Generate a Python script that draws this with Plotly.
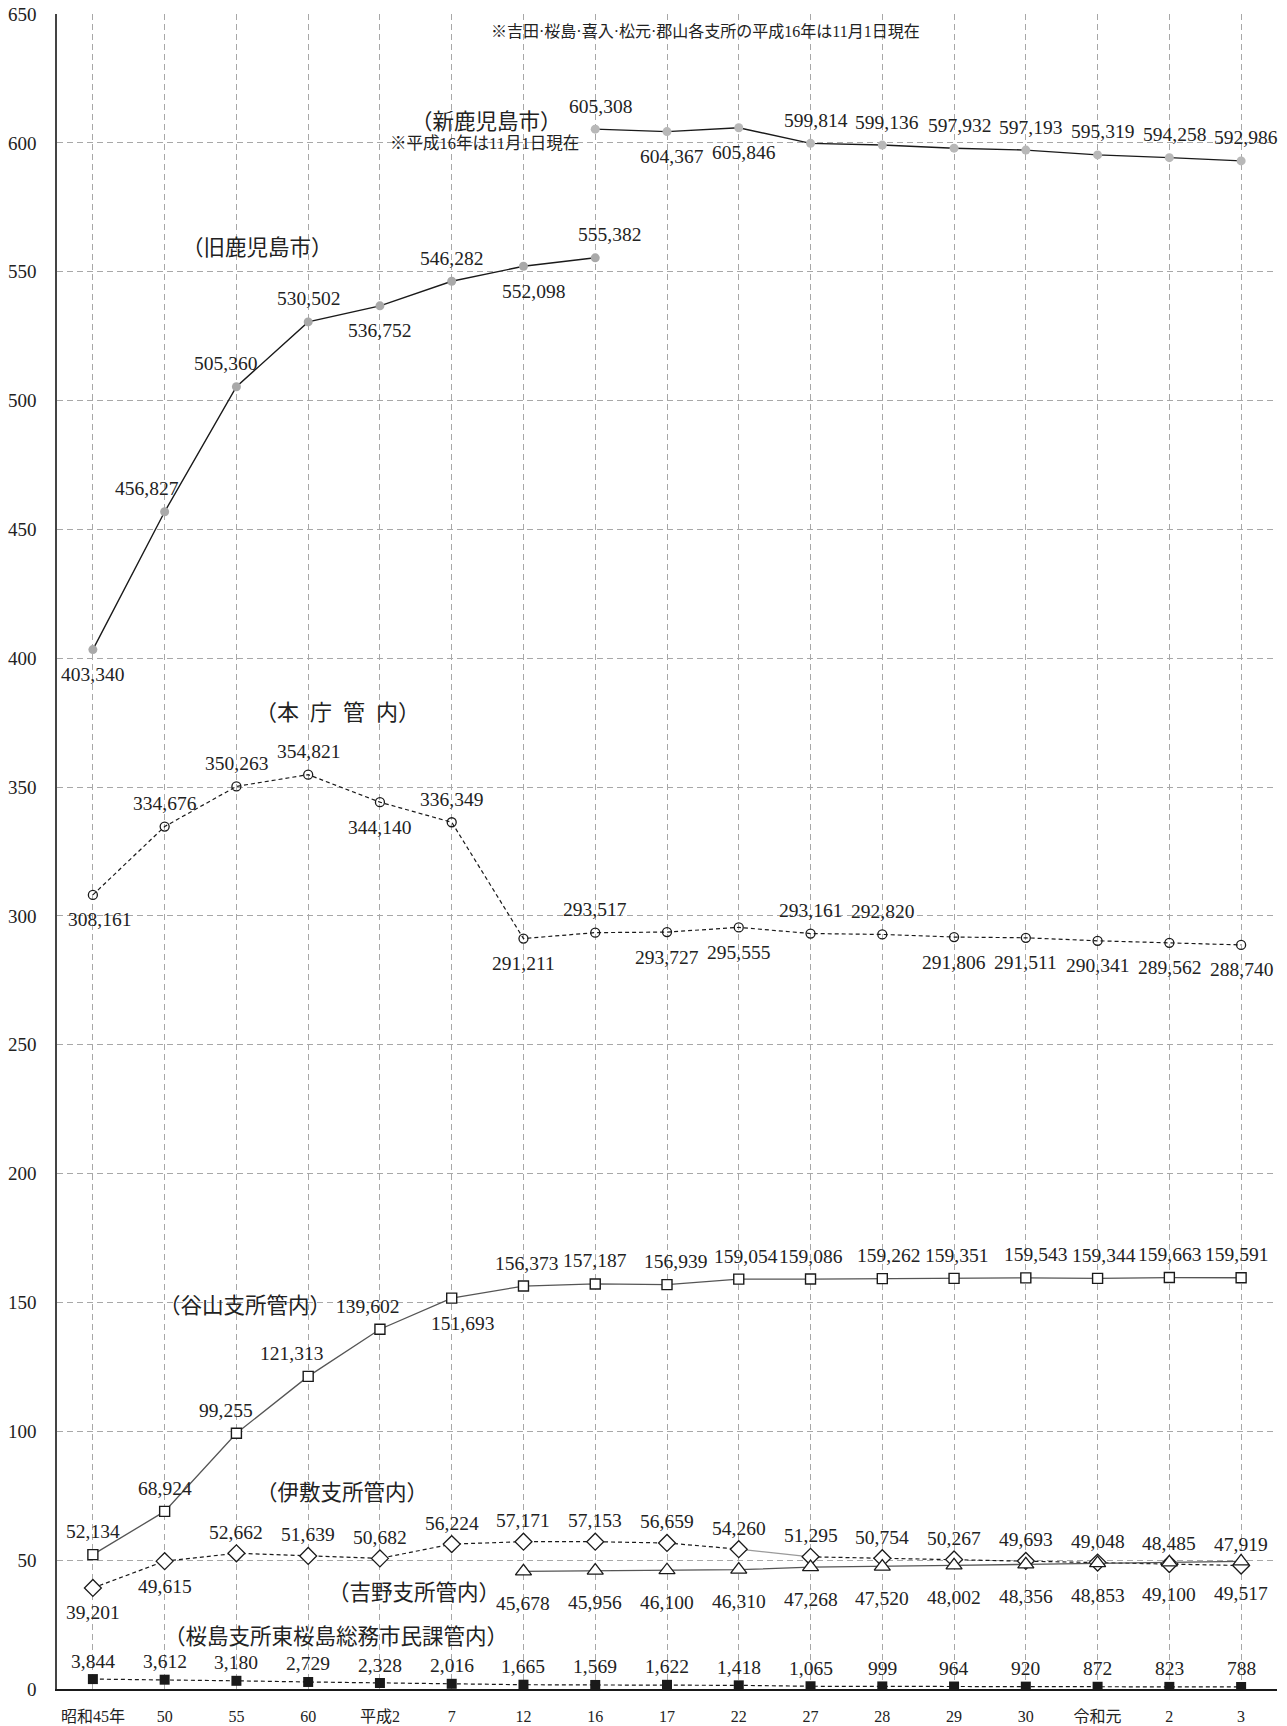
import plotly.graph_objects as go

# ---------------- data ----------------
categories = ["昭和45年", "50", "55", "60", "平成2", "7", "12", "16", "17",
              "22", "27", "28", "29", "30", "令和元", "2", "3"]

old_city = [403340, 456827, 505360, 530502, 536752, 546282, 552098, 555382]          # 昭和45..16
new_city = [605308, 604367, 605846, 599814, 599136, 597932, 597193, 595319, 594258, 592986]  # 16..3
honcho = [308161, 334676, 350263, 354821, 344140, 336349, 291211, 293517, 293727,
          295555, 293161, 292820, 291806, 291511, 290341, 289562, 288740]
taniyama = [52134, 68924, 99255, 121313, 139602, 151693, 156373, 157187, 156939,
            159054, 159086, 159262, 159351, 159543, 159344, 159663, 159591]
ishiki = [39201, 49615, 52662, 51639, 50682, 56224, 57171, 57153, 56659,
          54260, 51295, 50754, 50267, 49693, 49048, 48485, 47919]
yoshino = [45678, 45956, 46100, 46310, 47268, 47520, 48002, 48356, 48853, 49100, 49517]  # 12..3
higashi = [3844, 3612, 3180, 2729, 2328, 2016, 1665, 1569, 1622, 1418,
           1065, 999, 964, 920, 872, 823, 788]

y_ticks = list(range(0, 651, 50))

OLD_START = 0   # 昭和45年
NEW_START = 7   # 平成16
YOSHINO_START = 6  # 平成12

old_x = categories[OLD_START:OLD_START + len(old_city)]
new_x = categories[NEW_START:]
yoshino_x = categories[YOSHINO_START:]

# ---------------- label styling (positions of value labels) ----------------
old_pos = ['d', 'u', 'u', 'u', 'd', 'u', 'd', 'u']
old_dx = [0, -18, -11, 0, 0, 0, 10, 14]
new_pos = ['u', 'd', 'd', 'u', 'u', 'u', 'u', 'u', 'u', 'u']
new_dx = [5] * 10
honcho_pos = ['d', 'u', 'u', 'u', 'd', 'u', 'd', 'u', 'd', 'd', 'u', 'u', 'd', 'd', 'd', 'd', 'd']
honcho_dx = [7] + [0] * 16
taniyama_pos = ['u'] * 5 + ['d'] + ['u'] * 11
taniyama_dx = [0, 0, -10, -17, -12, 11, 3, 0, 8, 7, 0, 6, 2, 10, 6, 0, -5]
ishiki_pos = ['d', 'd'] + ['u'] * 15
yoshino_pos = ['d'] * 11
higashi_pos = ['u'] * 17

SERIF = "Liberation Serif, Noto Sans CJK JP, serif"
TXT = "#222222"
LABEL_SIZE = 19.5
NAME_SIZE = 21.5

fig = go.Figure()

def k(vals):
    return [v / 1000 for v in vals]

# 旧鹿児島市
fig.add_trace(go.Scatter(x=old_x, y=k(old_city), mode="lines+markers",
                         line=dict(color="#1a1a1a", width=1.4),
                         marker=dict(symbol="circle", size=9, color="#a9a9a9")))
# 新鹿児島市
fig.add_trace(go.Scatter(x=new_x, y=k(new_city), mode="lines+markers",
                         line=dict(color="#1a1a1a", width=1.4),
                         marker=dict(symbol="circle", size=9, color="#b8b8b8")))
# 本庁管内
fig.add_trace(go.Scatter(x=categories, y=k(honcho), mode="lines+markers",
                         line=dict(color="#1a1a1a", width=1.2, dash="4px,3px"),
                         marker=dict(symbol="circle-open", size=9, color="#1a1a1a",
                                     line=dict(width=1.3))))
# 谷山支所管内
fig.add_trace(go.Scatter(x=categories, y=k(taniyama), mode="lines+markers",
                         line=dict(color="#555555", width=1.3),
                         marker=dict(symbol="square", size=10, color="white",
                                     line=dict(color="#1a1a1a", width=1.4))))
# 伊敷支所管内 (dashed, with a thin grey solid segment 22 -> 27)
fig.add_trace(go.Scatter(x=categories[:10], y=k(ishiki[:10]), mode="lines",
                         line=dict(color="#1a1a1a", width=1.2, dash="4px,3px")))
fig.add_trace(go.Scatter(x=categories[9:11], y=k(ishiki[9:11]), mode="lines",
                         line=dict(color="#9a9a9a", width=1.2)))
fig.add_trace(go.Scatter(x=categories[10:], y=k(ishiki[10:]), mode="lines",
                         line=dict(color="#1a1a1a", width=1.2, dash="4px,3px")))
fig.add_trace(go.Scatter(x=categories, y=k(ishiki), mode="markers",
                         marker=dict(symbol="diamond", size=13, color="white",
                                     line=dict(color="#1a1a1a", width=1.3))))
# 吉野支所管内
fig.add_trace(go.Scatter(x=yoshino_x, y=k(yoshino), mode="lines+markers",
                         line=dict(color="#555555", width=1.3),
                         marker=dict(symbol="triangle-up", size=14, color="white",
                                     line=dict(color="#1a1a1a", width=1.3))))
# 桜島支所東桜島総務市民課管内
fig.add_trace(go.Scatter(x=categories, y=k(higashi), mode="lines+markers",
                         line=dict(color="#1a1a1a", width=1.2, dash="4px,3px"),
                         marker=dict(symbol="square", size=10, color="#1a1a1a")))

# ---------------- value labels ----------------
annotations = []

def add_labels(start, vals, pos, dx=None, up=23, down=-25):
    for i, v in enumerate(vals):
        annotations.append(dict(
            x=start + i, y=v / 1000, xref="x", yref="y", text=f"{v:,}", showarrow=False,
            yshift=up if pos[i] == 'u' else down,
            xshift=(dx[i] if dx else 0),
            font=dict(family=SERIF, size=LABEL_SIZE, color=TXT)))

add_labels(OLD_START, old_city, old_pos, old_dx)
add_labels(NEW_START, new_city, new_pos, new_dx)
add_labels(0, honcho, honcho_pos, honcho_dx)
add_labels(0, taniyama, taniyama_pos, taniyama_dx)
add_labels(0, ishiki, ishiki_pos, up=21)
add_labels(YOSHINO_START, yoshino, yoshino_pos, down=-32)
add_labels(0, higashi, higashi_pos, up=18)

# ---------------- series names & notes ----------------
names = [
    ("（新鹿児島市）", 5.49, 608.1, NAME_SIZE),
    ("※平成16年は11月1日現在", 5.46, 599.9, 16.5),
    ("※吉田·桜島·喜入·松元·郡山各支所の平成16年は11月1日現在", 8.54, 643.3, 16),
    ("（旧鹿児島市）", 2.30, 559.2, NAME_SIZE),
    ("（本\u00a0\u00a0庁\u00a0\u00a0管\u00a0\u00a0内）", 3.41, 379.1, 22),
    ("（谷山支所管内）", 2.12, 148.6, NAME_SIZE),
    ("（伊敷支所管内）", 3.47, 76.1, NAME_SIZE),
    ("（吉野支所管内）", 4.47, 37.3, NAME_SIZE),
    ("（桜島支所東桜島総務市民課管内）", 3.39, 20.2, NAME_SIZE),
]
for t, x, y, s in names:
    annotations.append(dict(x=x, y=y, xref="x", yref="y", text=t, showarrow=False,
                            font=dict(family=SERIF, size=s, color=TXT)))

fig.update_layout(
    width=1287, height=1726,
    margin=dict(l=57, r=10, t=14, b=37, autoexpand=False),
    paper_bgcolor="white", plot_bgcolor="white",
    showlegend=False,
    annotations=annotations,
    font=dict(family=SERIF, color=TXT),
)
fig.update_xaxes(type="category", categoryorder="array", categoryarray=categories,
                 range=[-0.5, 16.5], automargin=False,
                 showgrid=True, gridcolor="#a8a8a8", griddash="6px,4px", gridwidth=1,
                 showline=True, linecolor="#1a1a1a", linewidth=2,
                 ticks="", tickfont=dict(family=SERIF, size=16, color=TXT),
                 ticklabelstandoff=12)
fig.update_yaxes(range=[0, 650], tickvals=y_ticks, ticktext=[str(v) for v in y_ticks],
                 automargin=False,
                 showgrid=True, gridcolor="#a8a8a8", griddash="6px,4px", gridwidth=1,
                 zeroline=False,
                 showline=True, linecolor="#444444", linewidth=1.6,
                 ticks="", tickfont=dict(family=SERIF, size=19, color=TXT),
                 ticklabelstandoff=15)

fig.write_html("out.html", config={"displayModeBar": False},
               post_script="document.body.style.margin='0';")
